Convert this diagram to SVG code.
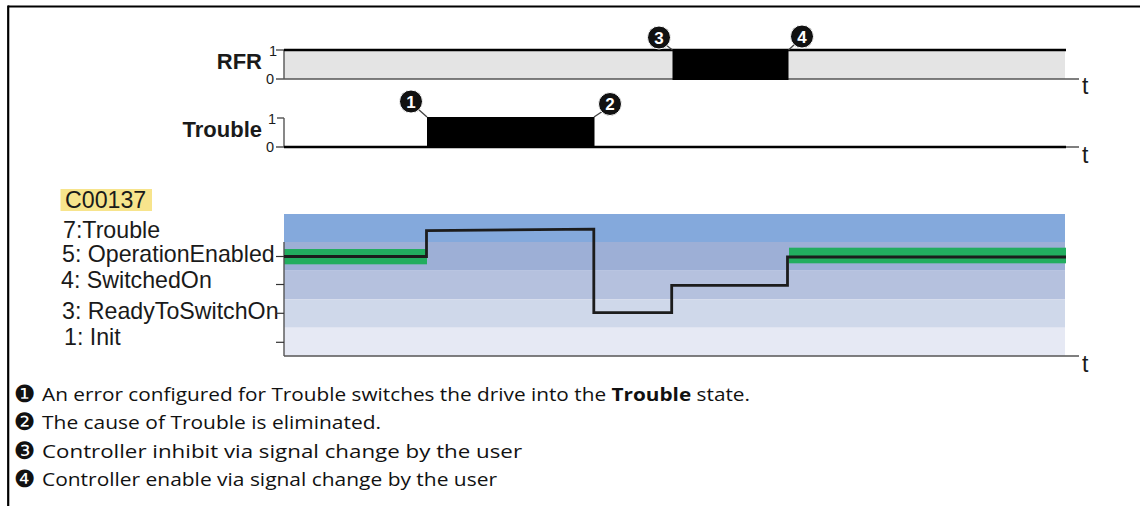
<svg xmlns="http://www.w3.org/2000/svg" width="1140" height="506" viewBox="0 0 1140 506">
<style>
.frame{stroke:#000;stroke-width:2.2;fill:none}
.axis{stroke:#555;stroke-width:1.4;fill:none}
.tick{stroke:#333;stroke-width:1.2;fill:none}
.sig{stroke:#000;stroke-width:2.6;fill:none}
.blk{fill:#000}
.sig-lbl{font-family:"Liberation Sans",Arial,sans-serif;font-weight:700;font-size:22px;fill:#1a1a1a;text-anchor:end}
.small{font-family:"Liberation Sans",Arial,sans-serif;font-size:14.5px;fill:#1a1a1a}
.tl{font-family:"Liberation Sans",Arial,sans-serif;font-size:23px;fill:#1a1a1a}
.st{font-family:"Liberation Sans",Arial,sans-serif;font-size:23.2px;fill:#1a1a1a}
.leg{font-family:"Open Sans","Noto Sans",sans-serif;font-size:17.8px;fill:#111}
.num{font-family:"DejaVu Sans",sans-serif;font-size:24px;fill:#111;text-anchor:middle}
.co circle{fill:#111;stroke:#fff;stroke-width:1}
.co text{font-family:"Liberation Sans",Arial,sans-serif;font-weight:700;font-size:17px;fill:#fff;text-anchor:middle}
.lead{stroke:#444;stroke-width:1.3;fill:none}
.state{stroke:#1c1c1c;stroke-width:2.8;fill:none;stroke-linejoin:miter}
</style>

<g id="frame">
  <line class="frame" x1="8" y1="6.5" x2="1140" y2="6.5"/>
  <line class="frame" x1="8.2" y1="5.4" x2="8.2" y2="506"/>
</g>

<g id="rfr-chart">
  <text class="sig-lbl" x="262" y="69">RFR</text>
  <rect x="284" y="50" width="781" height="29" fill="#e4e4e4"/>
  <line class="axis" x1="284" y1="50" x2="284" y2="79"/>
  <line class="axis" x1="276" y1="79" x2="1079" y2="79"/>
  <line class="tick" x1="276" y1="50" x2="284" y2="50"/>
  <line class="sig" x1="284" y1="50" x2="1066" y2="50"/>
  <rect class="blk" x="672.5" y="49" width="116" height="31"/>
  <text class="small" x="269" y="55.5">1</text>
  <text class="small" x="266" y="84">0</text>
  <text class="tl" x="1082" y="94">t</text>
</g>

<g id="trouble-chart">
  <text class="sig-lbl" x="262" y="137">Trouble</text>
  <line class="tick" x1="277" y1="118" x2="284" y2="118"/>
  <line class="axis" x1="284" y1="118" x2="284" y2="147"/>
  <line class="axis" x1="276" y1="147" x2="1079" y2="147"/>
  <line class="sig" x1="284" y1="147" x2="1066" y2="147"/>
  <rect class="blk" x="427" y="117" width="167.5" height="31"/>
  <text class="small" x="268" y="124">1</text>
  <text class="small" x="266" y="152">0</text>
  <text class="tl" x="1082" y="163">t</text>
</g>

<g id="state-chart">
  <rect x="60.5" y="189" width="91.5" height="22" fill="#f7e48c"/>
  <text class="st" x="65" y="208.3">C00137</text>
  <text class="st" x="63" y="237.5">7:Trouble</text>
  <text class="st" x="62" y="261.7">5: OperationEnabled</text>
  <text class="st" x="61" y="288.3">4: SwitchedOn</text>
  <text class="st" x="62" y="319.3">3: ReadyToSwitchOn</text>
  <text class="st" x="64" y="345">1: Init</text>
  <rect x="284" y="214" width="781" height="28" fill="#84a9dc"/>
  <rect x="284" y="242" width="781" height="28.7" fill="#9dafd6"/>
  <rect x="284" y="270.7" width="781" height="28.6" fill="#b5c1de"/>
  <rect x="284" y="299.3" width="781" height="28.4" fill="#cfd8ea"/>
  <rect x="284" y="327.7" width="781" height="28" fill="#e6e9f4"/>
  <rect x="284" y="249" width="143" height="15.3" fill="#22ad5f"/>
  <rect x="789" y="247.7" width="277" height="15.6" fill="#22ad5f"/>
  <line class="axis" x1="284" y1="242" x2="284" y2="356"/>
  <line class="axis" x1="284" y1="356" x2="1079" y2="356"/>
  <line class="tick" x1="276" y1="256.5" x2="284" y2="256.5"/>
  <line class="tick" x1="276" y1="284.5" x2="284" y2="284.5"/>
  <line class="tick" x1="276" y1="313.3" x2="284" y2="313.3"/>
  <line class="tick" x1="276" y1="342.3" x2="284" y2="342.3"/>
  <polyline class="state" points="284,256.5 426.5,256.5 426.5,230.7 593.8,229.2 593.8,312.7 671.7,312.7 671.7,285.3 787.5,285.3 787.5,257 1066,257"/>
  <text class="tl" x="1082" y="372">t</text>
</g>

<g id="connectors">
  <line class="lead" x1="418" y1="109" x2="427" y2="117"/>
  <line class="lead" x1="603" y1="111" x2="594" y2="117"/>
  <line class="lead" x1="666" y1="45" x2="672.5" y2="50"/>
  <line class="lead" x1="795" y1="44" x2="788.5" y2="50"/>
</g>

<g id="callout-1" class="co"><circle cx="411" cy="101.5" r="11.5"/><text x="411" y="107.5">1</text></g>
<g id="callout-2" class="co"><circle cx="610" cy="104" r="11.5"/><text x="610" y="110">2</text></g>
<g id="callout-3" class="co"><circle cx="659" cy="37.5" r="11.5"/><text x="659" y="43.5">3</text></g>
<g id="callout-4" class="co"><circle cx="802" cy="36.5" r="11.5"/><text x="802" y="42.5">4</text></g>

<g id="legend">
  <text class="num" x="24.5" y="402">❶</text>
  <text class="leg" x="42" y="401" textLength="708" lengthAdjust="spacingAndGlyphs">An error configured for Trouble switches the drive into the <tspan font-weight="700">Trouble</tspan> state.</text>
  <text class="num" x="24.5" y="430">❷</text>
  <text class="leg" x="42" y="429" textLength="339" lengthAdjust="spacingAndGlyphs">The cause of Trouble is eliminated.</text>
  <text class="num" x="24.5" y="459">❸</text>
  <text class="leg" x="42" y="458" textLength="480" lengthAdjust="spacingAndGlyphs">Controller inhibit via signal change by the user</text>
  <text class="num" x="24.5" y="487">❹</text>
  <text class="leg" x="42" y="486" textLength="455" lengthAdjust="spacingAndGlyphs">Controller enable via signal change by the user</text>
</g>
</svg>
